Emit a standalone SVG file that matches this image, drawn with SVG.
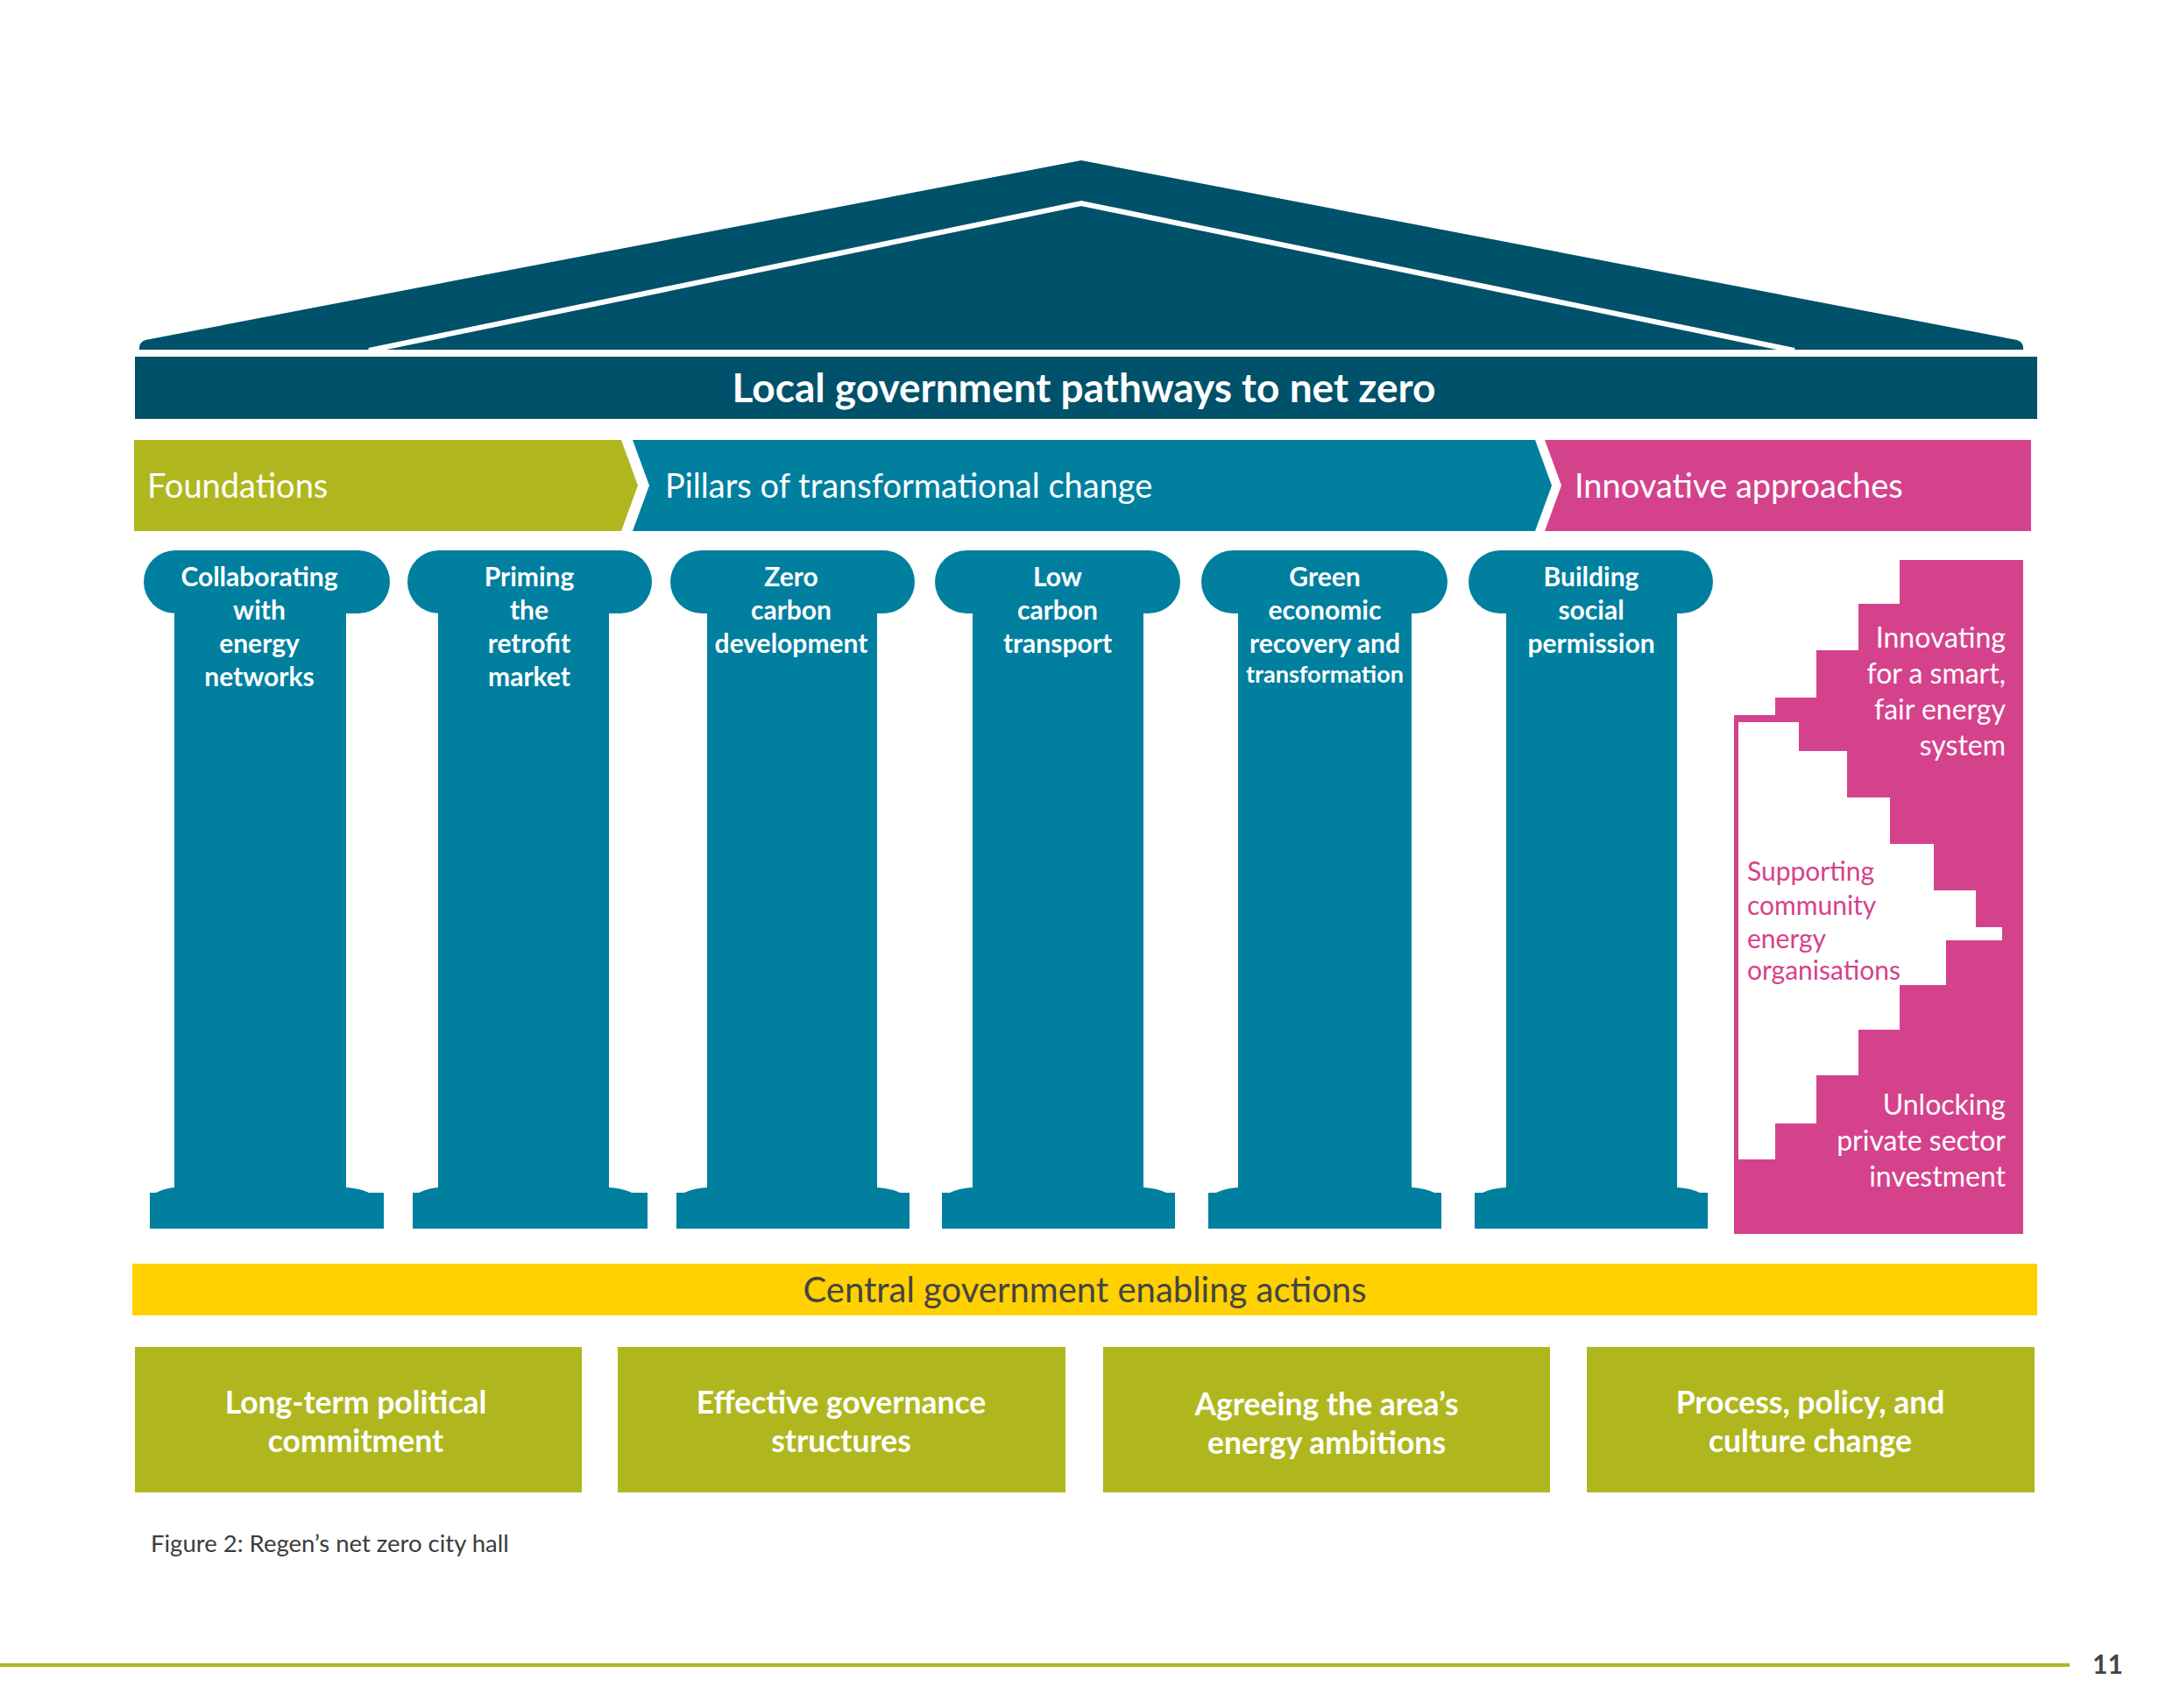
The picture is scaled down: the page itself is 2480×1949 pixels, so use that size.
<svg xmlns="http://www.w3.org/2000/svg" width="2480" height="1949" viewBox="0 0 2480 1949">
<style>
.navy{fill:#00516A}
.blue{fill:#007F9F}
.green{fill:#B0B71E}
.pink{fill:#D5428C}
.yellow{fill:#FFD100}
.t{font-family:Lato,"Open Sans","Liberation Sans",sans-serif}
.wb{fill:#fff;font-weight:700}
.wr{fill:#fff;font-weight:400}
.pl{font-size:30px;text-anchor:middle}
.box{font-size:35.5px;text-anchor:middle}
.band{font-size:38px}
.pk{font-size:32px;text-anchor:end}
.sup{font-size:30px;fill:#D5428C}
</style>
<rect width="2480" height="1949" fill="#fff"/>

<g id="roof">
<path class="navy" d="M166,388 L1234,183 L2302,388 Q2310,391 2309,399 L159,399 Q158,391 166,388 Z"/>
<polyline points="421,400 1234,232 2048,400" fill="none" stroke="#fff" stroke-width="6"/>
</g>

<g id="title">
<rect class="navy" x="154" y="407" width="2171" height="71"/>
<text class="t wb" x="1237" y="459" font-size="46" text-anchor="middle">Local government pathways to net zero</text>
</g>

<g id="foundations">
<polygon class="green" points="153,502 709,502 728,554 709,606 153,606"/>
<text class="t wr band" x="168" y="568">Foundations</text>
</g>
<g id="pillars-header">
<polygon class="blue" points="722,502 1752,502 1771,554 1752,606 722,606 741,554"/>
<text class="t wr band" x="759" y="568">Pillars of transformational change</text>
</g>
<g id="innovative-header">
<polygon class="pink" points="1763,502 2318,502 2318,606 1763,606 1782,554"/>
<text class="t wr band" x="1797" y="568">Innovative approaches</text>
</g>

<g id="pillar1">
<rect class="blue" x="164" y="628" width="281" height="72" rx="36" ry="36"/>
<path class="blue" d="M199,690 H395 V1355 Q411,1356 421,1361 H438 V1402 H171 V1361 H178 Q188,1356 199,1355 Z"/>
<text class="t wb pl" x="296" y="669">Collaborating</text>
<text class="t wb pl" x="296" y="707">with</text>
<text class="t wb pl" x="296" y="745">energy</text>
<text class="t wb pl" x="296" y="783">networks</text>
</g>
<g id="pillar2">
<rect class="blue" x="465" y="628" width="279" height="72" rx="36" ry="36"/>
<path class="blue" d="M500,690 H695 V1355 Q711,1356 721,1361 H739 V1402 H471 V1361 H478 Q488,1356 500,1355 Z"/>
<text class="t wb pl" x="604" y="669">Priming</text>
<text class="t wb pl" x="604" y="707">the</text>
<text class="t wb pl" x="604" y="745">retrofit</text>
<text class="t wb pl" x="604" y="783">market</text>
</g>
<g id="pillar3">
<rect class="blue" x="765" y="628" width="279" height="72" rx="36" ry="36"/>
<path class="blue" d="M807,690 H1001 V1355 Q1017,1356 1027,1361 H1038 V1402 H772 V1361 H781 Q791,1356 807,1355 Z"/>
<text class="t wb pl" x="903" y="669">Zero</text>
<text class="t wb pl" x="903" y="707">carbon</text>
<text class="t wb pl" x="903" y="745">development</text>
</g>
<g id="pillar4">
<rect class="blue" x="1067" y="628" width="280" height="72" rx="36" ry="36"/>
<path class="blue" d="M1110,690 H1305 V1355 Q1321,1356 1331,1361 H1341 V1402 H1075 V1361 H1084 Q1094,1356 1110,1355 Z"/>
<text class="t wb pl" x="1207" y="669">Low</text>
<text class="t wb pl" x="1207" y="707">carbon</text>
<text class="t wb pl" x="1207" y="745">transport</text>
</g>
<g id="pillar5">
<rect class="blue" x="1371" y="628" width="281" height="72" rx="36" ry="36"/>
<path class="blue" d="M1413,690 H1611 V1355 Q1627,1356 1637,1361 H1645 V1402 H1379 V1361 H1388 Q1398,1356 1413,1355 Z"/>
<text class="t wb pl" x="1512" y="669">Green</text>
<text class="t wb pl" x="1512" y="707">economic</text>
<text class="t wb pl" x="1512" y="745">recovery and</text>
<text class="t wb" x="1512" y="779" font-size="27" text-anchor="middle">transformation</text>
</g>
<g id="pillar6">
<rect class="blue" x="1676" y="628" width="279" height="72" rx="36" ry="36"/>
<path class="blue" d="M1719,690 H1914 V1355 Q1930,1356 1940,1361 H1949 V1402 H1683 V1361 H1692 Q1702,1356 1719,1355 Z"/>
<text class="t wb pl" x="1816" y="669">Building</text>
<text class="t wb pl" x="1816" y="707">social</text>
<text class="t wb pl" x="1816" y="745">permission</text>
</g>

<g id="staircase">
<path class="pink" d="M2168,639 H2309 V1408 H1979 V816 H2026 V796 H2073 V742 H2121 V689 H2168 Z"/>
<path fill="#fff" d="M1984,824 H2053 V857 H2108 V910 H2157 V963 H2207 V1016 H2255 V1058 H2285 V1073 H2221 V1124 H2168 V1175 H2121 V1227 H2073 V1282 H2026 V1323 H1984 Z"/>
</g>
<g id="innovating">
<text class="t wr pk" x="2289" y="739">Innovating</text>
<text class="t wr pk" x="2289" y="780">for a smart,</text>
<text class="t wr pk" x="2289" y="821">fair energy</text>
<text class="t wr pk" x="2289" y="862">system</text>
</g>
<g id="supporting">
<text class="t sup" x="1994" y="1005">Supporting</text>
<text class="t sup" x="1994" y="1044">community</text>
<text class="t sup" x="1994" y="1082">energy</text>
<text class="t sup" x="1994" y="1118">organisations</text>
</g>
<g id="unlocking">
<text class="t wr pk" x="2289" y="1272">Unlocking</text>
<text class="t wr pk" x="2289" y="1313">private sector</text>
<text class="t wr pk" x="2289" y="1354">investment</text>
</g>

<g id="central">
<rect class="yellow" x="151" y="1442" width="2174" height="59"/>
<text class="t" x="1238" y="1486" font-size="40" fill="#444" text-anchor="middle">Central government enabling actions</text>
</g>

<g id="box1">
<rect class="green" x="154" y="1537" width="510" height="166"/>
<text class="t wb box" x="406" y="1613">Long-term political</text>
<text class="t wb box" x="406" y="1657">commitment</text>
</g>
<g id="box2">
<rect class="green" x="705" y="1537" width="511" height="166"/>
<text class="t wb box" x="960" y="1613">Effective governance</text>
<text class="t wb box" x="960" y="1657">structures</text>
</g>
<g id="box3">
<rect class="green" x="1259" y="1537" width="510" height="166"/>
<text class="t wb box" x="1514" y="1615">Agreeing the area’s</text>
<text class="t wb box" x="1514" y="1659">energy ambitions</text>
</g>
<g id="box4">
<rect class="green" x="1811" y="1537" width="511" height="166"/>
<text class="t wb box" x="2066" y="1613">Process, policy, and</text>
<text class="t wb box" x="2066" y="1657">culture change</text>
</g>

<text class="t" x="172" y="1771" font-size="27.5" fill="#3c3c3c">Figure 2: Regen’s net zero city hall</text>
<rect class="green" x="0" y="1898" width="2362" height="4"/>
<text class="t" x="2388" y="1910" font-size="30" font-weight="700" fill="#444">11</text>
</svg>
